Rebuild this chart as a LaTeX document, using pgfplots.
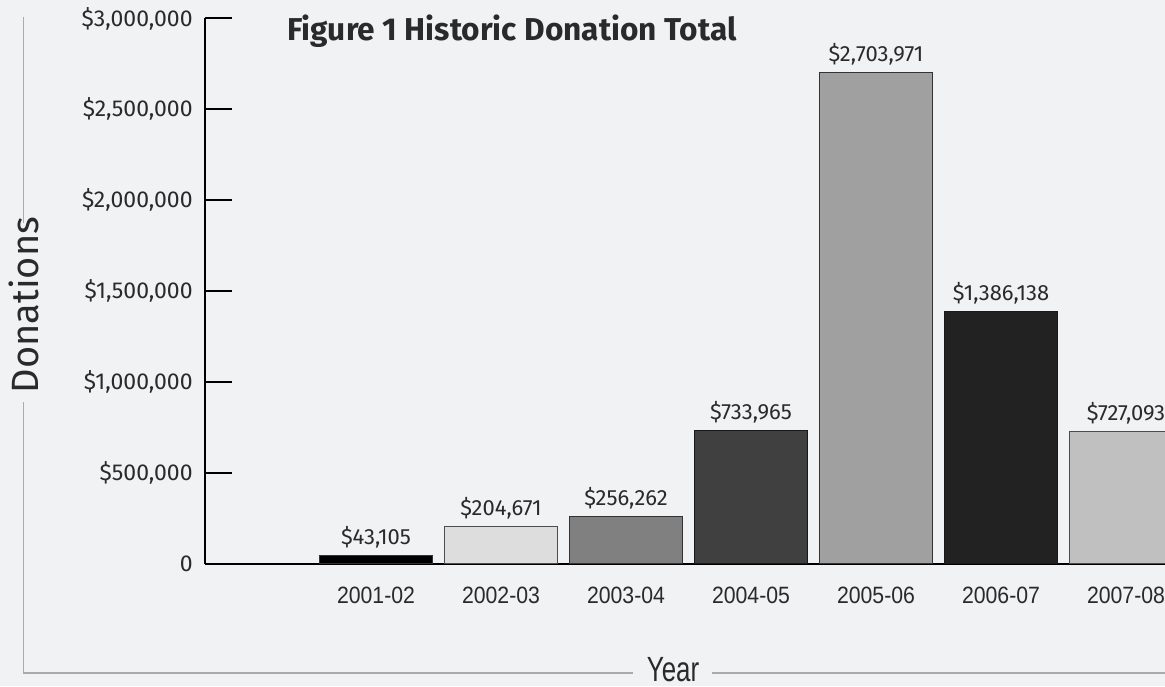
\documentclass[border=0pt]{standalone}
\usepackage{pgfplots}
\pgfplotsset{compat=1.18}
\usepackage{fontspec}
\setmainfont{Fira Sans}
\newfontfamily\condfont{Liberation Sans}

\definecolor{bg}{HTML}{F1F2F4}
\definecolor{framegray}{HTML}{ABABAB}
\definecolor{txt}{HTML}{2A2A2A}
\definecolor{barA}{HTML}{000000}
\definecolor{barB}{HTML}{DDDDDD}
\definecolor{barC}{HTML}{808080}
\definecolor{barD}{HTML}{404040}
\definecolor{barE}{HTML}{A0A0A0}
\definecolor{barF}{HTML}{222222}
\definecolor{barG}{HTML}{C0C0C0}

\newcommand{\cond}[1]{\scalebox{0.9}[1]{#1}}

\begin{document}
\begin{tikzpicture}
% background and outer frame (1px = 0.5pt)
\fill[bg] (0,0) rectangle (582.5pt,343pt);
\draw[framegray, line width=0.8pt] (11.75pt,334.5pt) -- (11.75pt,231.5pt);
\draw[framegray, line width=0.8pt] (11.75pt,142pt) -- (11.75pt,6.5pt) -- (316.5pt,6.5pt);
\draw[framegray, line width=0.8pt] (356pt,6.5pt) -- (582.5pt,6.5pt);
\node[rotate=90, text=txt, font=\fontsize{19}{22}\selectfont, inner sep=0pt] at (11.75pt,190.5pt) {Donations};
\node[anchor=base, text=txt, inner sep=0pt, font=\condfont\fontsize{17.5}{20}\selectfont] at (336.5pt,2.5pt) {\scalebox{0.74}[1]{Year}};
\node[anchor=base west, text=txt, inner sep=0pt] at (143.5pt,322.5pt) {\resizebox{224.5pt}{!}{\bfseries Figure 1 Historic Donation Total}};

\begin{axis}[
    at={(102.5pt,61.25pt)}, anchor=south west,
    scale only axis,
    width=480pt, height=272.5pt,
    xmin=-0.368, xmax=7.312,
    ymin=0, ymax=3000000,
    axis x line*=bottom, axis y line*=left,
    axis line style={-, line width=1pt, black},
    tick align=inside,
    major tick length=13.5pt,
    ytick={0,500000,1000000,1500000,2000000,2500000,3000000},
    yticklabels={0,{\$500,000},{\$1,000,000},{\$1,500,000},{\$2,000,000},{\$2,500,000},{\$3,000,000}},
    scaled y ticks=false,
    ytick style={line width=1pt, black},
    yticklabel style={inner sep=0pt, xshift=-6pt, text=txt, font=\fontsize{11.5}{13}\selectfont},
    xtick={1,2,3,4,5,6,7},
    xticklabels={\cond{2001-02},\cond{2002-03},\cond{2003-04},\cond{2004-05},\cond{2005-06},\cond{2006-07},\cond{2007-08}},
    xtick style={draw=none},
    xticklabel style={anchor=base, inner sep=0pt, yshift=-6.25pt, text=txt, font=\condfont\fontsize{11.8}{13}\selectfont},
    ybar,
    bar width=56.5pt,
    nodes near coords,
    point meta=explicit symbolic,
    every node near coord/.append style={anchor=base, inner sep=0pt, yshift=5.5pt, text=txt, font=\fontsize{11}{13}\selectfont},
]
\addplot[bar shift=0pt, fill=barA, draw=black!80, line width=0.5pt] coordinates {(1,43105) [\$43,105]};
\addplot[bar shift=0pt, fill=barB, draw=black!70, line width=0.5pt] coordinates {(2,204671) [\$204,671]};
\addplot[bar shift=0pt, fill=barC, draw=black!80, line width=0.5pt] coordinates {(3,256262) [\$256,262]};
\addplot[bar shift=0pt, fill=barD, draw=black!90, line width=0.5pt] coordinates {(4,733965) [\$733,965]};
\addplot[bar shift=0pt, fill=barE, draw=black!80, line width=0.5pt] coordinates {(5,2703971) [\$2,703,971]};
\addplot[bar shift=0pt, fill=barF, draw=black!90, line width=0.5pt] coordinates {(6,1386138) [\$1,386,138]};
\addplot[bar shift=0pt, fill=barG, draw=black!70, line width=0.5pt] coordinates {(7,727093) [\$727,093]};
\end{axis}

\pgfresetboundingbox
\path[use as bounding box] (0,0) rectangle (582.5pt,343pt);
\end{tikzpicture}
\end{document}
